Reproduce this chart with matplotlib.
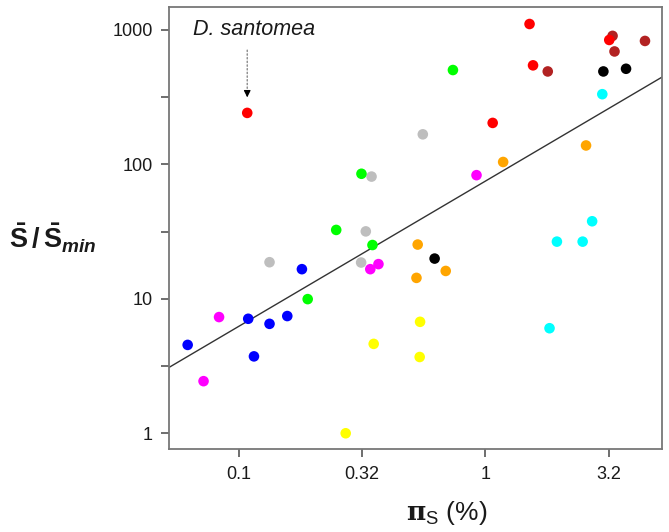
import numpy as np
import matplotlib
matplotlib.use("Agg")
import matplotlib.pyplot as plt
from matplotlib.ticker import FixedLocator, FixedFormatter, NullLocator

plt.rcParams["font.family"] = ["Liberation Sans", "DejaVu Sans"]
plt.rcParams["mathtext.fontset"] = "custom"
plt.rcParams["mathtext.rm"] = "Liberation Sans"
plt.rcParams["mathtext.sf"] = "Liberation Sans:bold"
plt.rcParams["mathtext.bf"] = "DejaVu Serif:bold"
plt.rcParams["mathtext.bfit"] = "Liberation Sans:italic:bold"

# ---------------------------------------------------------------------
# Data: pi_s (%) and S/S_min per species group
# ---------------------------------------------------------------------
red_pi = [0.108, 1.51, 1.56, 1.07, 3.18]
red_s = [241, 1104, 544, 203, 840]

brown_pi = [3.28, 3.34, 4.44, 1.79]
brown_s = [901, 690, 826, 490]

black_pi = [3.01, 3.72, 0.622]
black_s = [490, 513, 19.9]

cyan_pi = [2.98, 2.71, 1.95, 2.48, 1.82]
cyan_s = [332, 37.7, 26.6, 26.6, 6.04]

green_pi = [0.738, 0.314, 0.248, 0.348, 0.190]
green_s = [502, 85, 32.5, 25.1, 9.94]

gray_pi = [0.557, 0.345, 0.327, 0.313, 0.133]
gray_s = [167, 81, 31.7, 18.6, 18.7]

orange_pi = [2.56, 1.18, 0.531, 0.525, 0.690]
orange_s = [138, 104, 25.3, 14.3, 16.1]

magenta_pi = [0.920, 0.341, 0.368, 0.083, 0.0718]
magenta_s = [83, 16.6, 18.1, 7.31, 2.44]

blue_pi = [0.180, 0.157, 0.133, 0.109, 0.115, 0.0619]
blue_s = [16.6, 7.44, 6.51, 7.10, 3.73, 4.54]

yellow_pi = [0.543, 0.352, 0.541, 0.271]
yellow_s = [6.74, 4.62, 3.69, 1.0]

# log10(S) = fit_intercept + fit_slope * log10(pi)
fit_slope = 1.079
fit_intercept = 1.875

groups = [
    (brown_pi, brown_s, "#b22222"),
    (red_pi, red_s, "#ff0000"),
    (black_pi, black_s, "#000000"),
    (cyan_pi, cyan_s, "#00ffff"),
    (gray_pi, gray_s, "#bebebe"),
    (green_pi, green_s, "#00ff00"),
    (orange_pi, orange_s, "#ffa500"),
    (magenta_pi, magenta_s, "#ff00ff"),
    (blue_pi, blue_s, "#0000ff"),
    (yellow_pi, yellow_s, "#ffff00"),
]

x_ticks = [10 ** -1, 10 ** -0.5, 1, 10 ** 0.5]
x_labels = ["0.1", "0.32", "1", "3.2"]
y_ticks = [1, 10 ** 0.5, 10, 10 ** 1.5, 100, 10 ** 2.5, 1000]
y_labels = ["1", "", "10", "", "100", "", "1000"]

# ---------------------------------------------------------------------
# Figure / Axes
# ---------------------------------------------------------------------
fig = plt.figure(figsize=(6.69, 5.32), dpi=100)
ax = fig.add_axes([0.253, 0.1555, 0.736, 0.8315])
ax.set_xscale("log")
ax.set_yscale("log")
ax.set_xlim(10 ** -1.283, 10 ** 0.715)
ax.set_ylim(10 ** -0.119, 10 ** 3.17)

for xs, ys, col in groups:
    ax.scatter(xs, ys, s=58, color=col, edgecolors="none", zorder=3)

xl = np.array(ax.get_xlim())
ax.plot(xl, 10 ** (fit_intercept + fit_slope * np.log10(xl)),
        color="#333333", lw=1.0, zorder=2)

ax.xaxis.set_major_locator(FixedLocator(x_ticks))
ax.xaxis.set_major_formatter(FixedFormatter(x_labels))
ax.xaxis.set_minor_locator(NullLocator())
ax.yaxis.set_major_locator(FixedLocator(y_ticks))
ax.yaxis.set_major_formatter(FixedFormatter(y_labels))
ax.yaxis.set_minor_locator(NullLocator())

for sp in ax.spines.values():
    sp.set_color("#777777")
    sp.set_linewidth(1.3)
ax.tick_params(axis="both", direction="out", length=6, width=1.2,
               color="#555555", labelsize=13, labelcolor="#1a1a1a", pad=6)

# D. santomea callout
ax.annotate("", xy=(0.108, 300), xytext=(0.108, 740),
            arrowprops=dict(arrowstyle="-", ls=":", color="#888888", lw=1.0))
ax.annotate("", xy=(0.108, 300), xytext=(0.108, 345),
            arrowprops=dict(arrowstyle="-|>", color="black", lw=0.8,
                            mutation_scale=10))
ax.text(0.0651, 1000, "D. santomea", style="italic", fontsize=15.5,
        va="center", ha="left", color="#1a1a1a")

fig.text(0.0785, 0.553,
         r"$\mathsf{\bar{S}\,/\,\bar{S}}_{\mathbfit{min}}$",
         fontsize=19.5, ha="center", va="center", color="#1a1a1a")
fig.text(0.668, 0.035, r"$\mathbf{π}_{\mathrm{S}}$ (%)",
         fontsize=19, ha="center", va="center", color="#1a1a1a")

fig.savefig("out.png", dpi=100)
